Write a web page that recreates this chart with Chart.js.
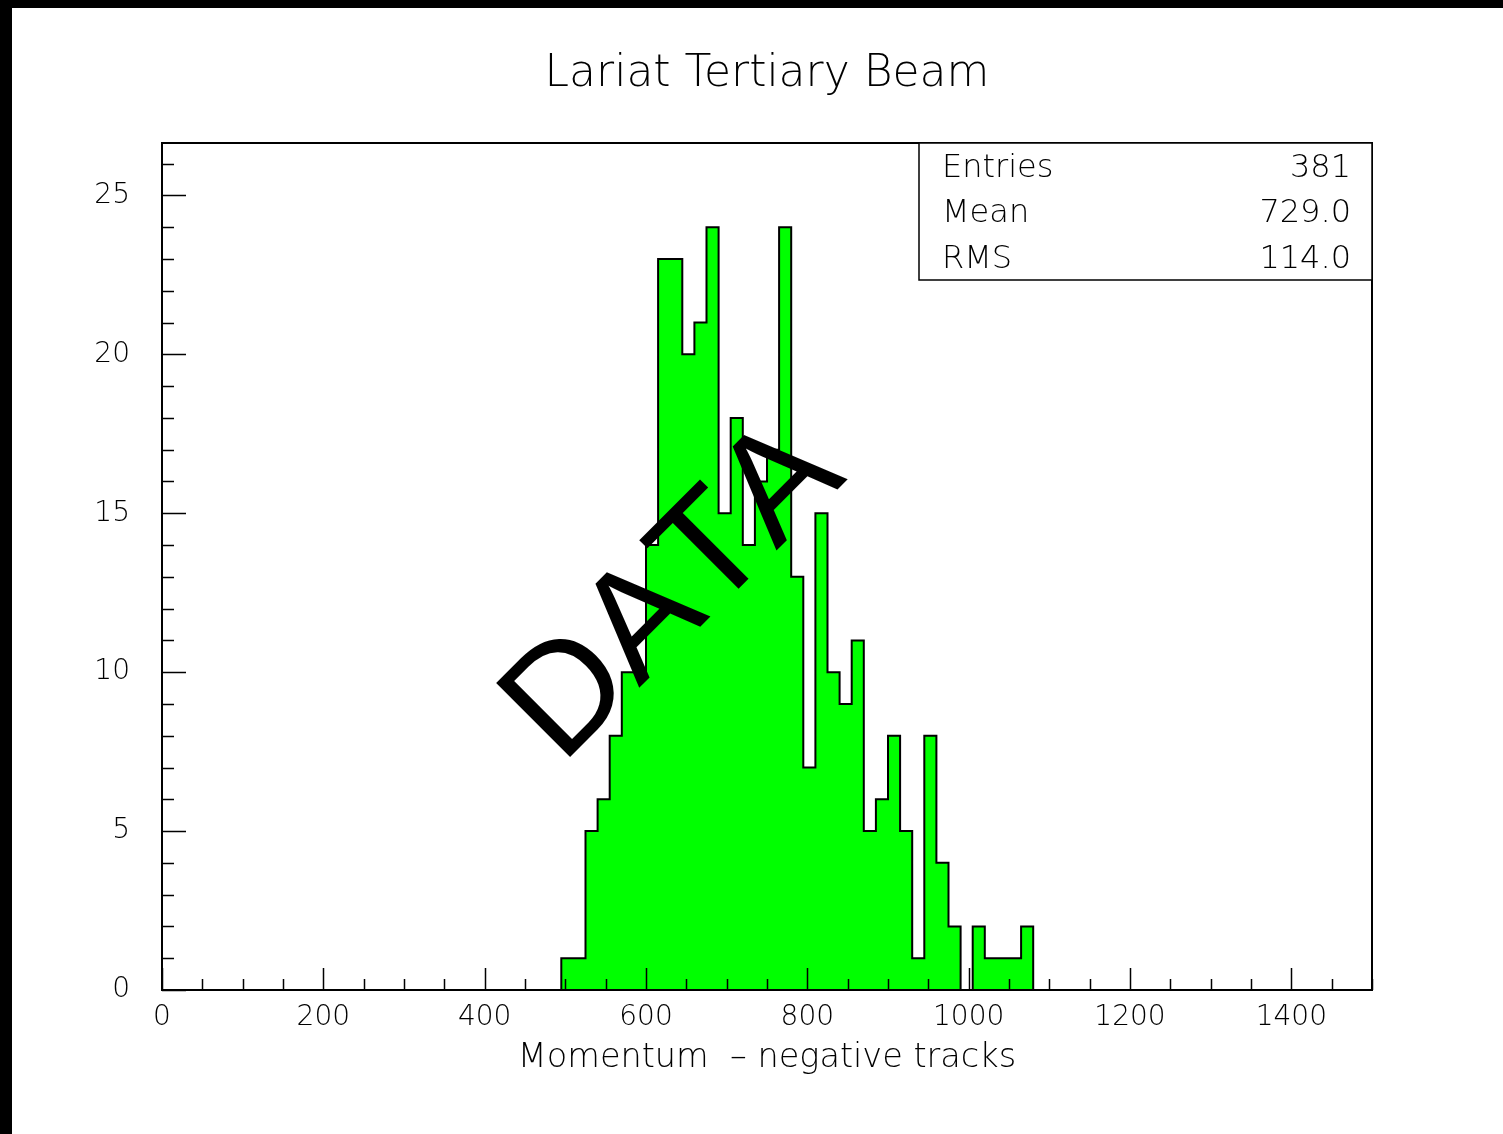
<!DOCTYPE html>
<html><head><meta charset="utf-8">
<script src="https://cdn.jsdelivr.net/npm/chart.js@4.4.0/dist/chart.umd.min.js"></script>
<style>
html,body{margin:0;padding:0;background:#fff;}
#wrap{position:absolute;left:0;top:0;width:1491px;height:1126px;border-left:12px solid #000;border-top:8px solid #000;background:#fff;}
canvas{display:block;}
</style></head><body>
<div id="wrap"><canvas id="c" width="1491" height="1126"></canvas></div>
<script>
const chartTitle = 'Lariat Tertiary Beam';
const xAxisTitle = 'Momentum  \u2013 negative tracks';
const xRange = [0, 1500];
const yRange = [0, 26.65];
const binWidth = 15;
const firstBinLow = 495;
const counts = [1,1,5,6,8,10,10,14,23,23,20,21,24,15,18,14,16,17,24,13,7,15,10,9,11,5,6,8,5,1,8,4,2,0,2,1,1,1,2];
const xTickValues = [0,200,400,600,800,1000,1200,1400];
const yTickValues = [0,5,10,15,20,25];
const statNames = ['Entries','Mean','RMS'];
const statValues = ['381','729.0','114.0'];
const watermark = 'DATA';
const watermarkAt = [636, 12.5];

const FONT = '"DejaVu Sans", sans-serif';

// histogram outline points (left bin edges, stepped)
const points = [{x: xRange[0], y: 0}];
counts.forEach((c, i) => points.push({x: firstBinLow + i * binWidth, y: c}));
points.push({x: firstBinLow + counts.length * binWidth, y: 0});
points.push({x: xRange[1], y: 0});

const decor = {
  id: 'rootDecor',
  afterDatasetsDraw(chart) {
    const {ctx, chartArea: a, scales: {x, y}} = chart;
    // title
    ctx.save();
    ctx.fillStyle = '#000';
    ctx.font = '200 44px ' + FONT;
    ctx.textAlign = 'center';
    ctx.textBaseline = 'alphabetic';
    ctx.fillText(chartTitle, (a.left + a.right) / 2, a.top - 57);
    ctx.restore();

    // watermark
    ctx.save();
    ctx.translate(x.getPixelForValue(watermarkAt[0]), y.getPixelForValue(watermarkAt[1]));
    ctx.rotate(-Math.PI / 4);
    ctx.font = '152px "Liberation Sans", Arial, sans-serif';
    if ('fontKerning' in ctx) ctx.fontKerning = 'none';
    ctx.textAlign = 'center';
    ctx.textBaseline = 'middle';
    ctx.fillStyle = '#000';
    ctx.fillText(watermark, 0, 0);
    ctx.restore();

    ctx.save();
    ctx.strokeStyle = '#000';
    ctx.lineWidth = 1.5;
    // inward ticks
    ctx.beginPath();
    for (let v = xRange[0]; v <= xRange[1]; v += 50) {
      const px = Math.round(x.getPixelForValue(v)) + 0.5;
      const len = v % 200 === 0 ? 22 : 11;
      ctx.moveTo(px, a.bottom);
      ctx.lineTo(px, a.bottom - len);
    }
    for (let v = 0; v <= yRange[1]; v += 1) {
      const py = Math.round(y.getPixelForValue(v)) + 0.5;
      const len = v % 5 === 0 ? 24 : 12;
      ctx.moveTo(a.left, py);
      ctx.lineTo(a.left + len, py);
    }
    ctx.stroke();
    // frame
    ctx.lineWidth = 2;
    ctx.strokeRect(a.left, a.top, a.right - a.left, a.bottom - a.top);

    // stats box
    const bw = 453, bh = 137;
    const bx = a.right - bw, by = a.top;
    ctx.fillStyle = '#fff';
    ctx.fillRect(bx, by, bw, bh);
    ctx.lineWidth = 1.5;
    ctx.strokeRect(bx, by, bw, bh);
    ctx.fillStyle = '#000';
    ctx.font = '200 32px ' + FONT;
    ctx.textBaseline = 'middle';
    const rows = [26, 71, 117];
    statNames.forEach((n, i) => {
      ctx.textAlign = 'left';
      ctx.fillText(n, bx + 23, by + rows[i]);
      ctx.textAlign = 'right';
      ctx.fillText(statValues[i], bx + bw - 21, by + rows[i]);
    });
    ctx.restore();
  }
};

new Chart(document.getElementById('c'), {
  type: 'line',
  data: {
    datasets: [{
      data: points,
      stepped: 'before',
      fill: 'origin',
      backgroundColor: '#00ff00',
      borderColor: '#000',
      borderWidth: 2,
      pointRadius: 0,
      tension: 0
    }]
  },
  options: {
    responsive: false,
    animation: false,
    devicePixelRatio: 1,
    layout: {padding: {left: 0, right: 131, top: 135, bottom: 0}},
    plugins: {
      legend: {display: false},
      tooltip: {enabled: false},
      title: {display: false}
    },
    scales: {
      x: {
        type: 'linear',
        min: xRange[0],
        max: xRange[1],
        grid: {display: false, drawTicks: false},
        border: {display: false},
        afterBuildTicks: s => { s.ticks = xTickValues.map(v => ({value: v})); },
        afterFit: s => { s.height = 144; },
        ticks: {
          color: '#000',
          padding: 11,
          maxRotation: 0,
          font: {family: FONT, size: 28, weight: 200},
          callback: v => String(v)
        },
        title: {
          display: true,
          text: xAxisTitle,
          color: '#000',
          font: {family: FONT, size: 33.5, weight: 200},
          padding: {top: 0, bottom: 56}
        }
      },
      y: {
        type: 'linear',
        min: yRange[0],
        max: yRange[1],
        grid: {display: false, drawTicks: false},
        border: {display: false},
        afterBuildTicks: s => { s.ticks = yTickValues.map(v => ({value: v})); },
        afterFit: s => { s.width = 150; },
        ticks: {
          color: '#000',
          padding: 32,
          font: {family: FONT, size: 28, weight: 200},
          callback: v => String(v)
        }
      }
    }
  },
  plugins: [decor]
});
</script>
</body></html>
